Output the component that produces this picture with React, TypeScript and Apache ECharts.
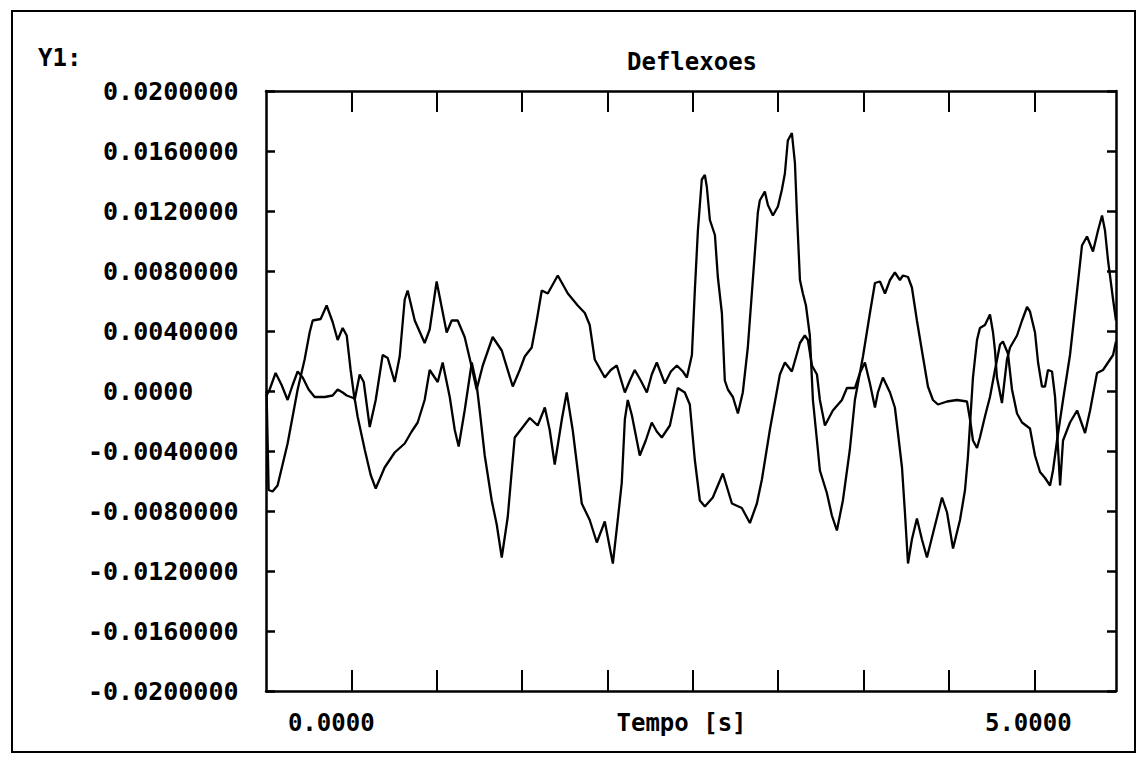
import React, { useEffect, useRef } from "react";
import * as echarts from "echarts";

// ---- data (time in s, deflection) ----
const c1Time = [
  -0.464, -0.449, -0.421, -0.385, -0.313, -0.241, -0.191, -0.155, -0.133, -0.076, -0.033, 0.01, 0.046, 0.082, 0.111, 0.139,
  0.168, 0.204, 0.233, 0.276, 0.319, 0.369, 0.405, 0.455, 0.491, 0.527, 0.548, 0.599, 0.67, 0.706, 0.756, 0.792,
  0.828, 0.864, 0.907, 0.957, 1.0, 1.043, 1.087, 1.158, 1.223, 1.302, 1.352, 1.388, 1.438, 1.474, 1.51, 1.553,
  1.589, 1.625, 1.697, 1.768, 1.819, 1.854, 1.89, 1.962, 2.005, 2.048, 2.106, 2.142, 2.177, 2.22, 2.264, 2.299,
  2.335, 2.393, 2.436, 2.479, 2.522, 2.551, 2.587, 2.608, 2.63, 2.658, 2.68, 2.694, 2.716, 2.752, 2.773, 2.802,
  2.823, 2.845, 2.881, 2.917, 2.952, 2.988, 3.024, 3.06, 3.074, 3.11, 3.132, 3.168, 3.204, 3.232, 3.254, 3.275,
  3.304, 3.326, 3.34, 3.362, 3.383, 3.405, 3.433, 3.455, 3.484, 3.505, 3.555, 3.591, 3.627, 3.67, 3.72, 3.756,
  3.814, 3.864, 3.9, 3.936, 3.972, 4.008, 4.043, 4.079, 4.101, 4.137, 4.165, 4.201, 4.244, 4.28, 4.316, 4.352,
  4.417, 4.488, 4.56, 4.582, 4.603, 4.632, 4.653, 4.689, 4.725, 4.761, 4.797, 4.818, 4.854, 4.883, 4.919, 4.955,
  5.012, 5.048, 5.084, 5.12, 5.156, 5.177, 5.206, 5.249, 5.299, 5.35, 5.385, 5.421, 5.464, 5.5, 5.529, 5.55,
  5.572, 5.608, 5.629,
];
const c1Value = [
  0.0, -0.0066, -0.0067, -0.0063, -0.0035, 0.0001, 0.0021, 0.0039, 0.0047, 0.0048, 0.0057, 0.0046, 0.0034, 0.0042, 0.0037, 0.0014,
  -0.0006, 0.0011, 0.0006, -0.0024, -0.0006, 0.0024, 0.0022, 0.0006, 0.0023, 0.0061, 0.0067, 0.0047, 0.0032, 0.0041, 0.0073, 0.0056,
  0.0039, 0.0047, 0.0047, 0.0036, 0.0019, 0.0001, 0.0017, 0.0036, 0.0027, 0.0003, 0.0014, 0.0023, 0.0029, 0.0047, 0.0067, 0.0065,
  0.0071, 0.0077, 0.0065, 0.0057, 0.0052, 0.0044, 0.0021, 0.0009, 0.0014, 0.0017, -0.0001, 0.0007, 0.0014, 0.0007, -0.0001, 0.0011,
  0.0019, 0.0005, 0.0013, 0.0017, 0.0013, 0.0009, 0.0024, 0.0067, 0.0107, 0.0141, 0.0144, 0.0136, 0.0114, 0.0104, 0.0076, 0.0052,
  0.0007, 0.0001, -0.0004, -0.0015, -0.0001, 0.0029, 0.0074, 0.0119, 0.0127, 0.0133, 0.0124, 0.0117, 0.0123, 0.0134, 0.0145, 0.0167,
  0.0172, 0.0152, 0.0119, 0.0074, 0.0065, 0.0057, 0.0037, -0.0006, -0.0033, -0.0053, -0.0068, -0.0083, -0.0093, -0.0073, -0.0039, -0.0006,
  0.0023, 0.0052, 0.0072, 0.0073, 0.0065, 0.0074, 0.0079, 0.0074, 0.0077, 0.0076, 0.0069, 0.0047, 0.0023, 0.0003, -0.0006, -0.0009,
  -0.0007, -0.0006, -0.0007, -0.0019, -0.0033, -0.0038, -0.0031, -0.0017, -0.0004, 0.0014, 0.0031, 0.0033, 0.0025, 0.0001, -0.0015, -0.0021,
  -0.0025, -0.0043, -0.0054, -0.0058, -0.0063, -0.0053, -0.0033, -0.0006, 0.0024, 0.0067, 0.0097, 0.0103, 0.0093, 0.0107, 0.0117, 0.0107,
  0.0087, 0.0061, 0.0047,
];
const c2Time = [
  -0.464, -0.442, -0.399, -0.356, -0.313, -0.277, -0.241, -0.205, -0.162, -0.119, -0.047, 0.01, 0.046, 0.082, 0.111, 0.168,
  0.189, 0.24, 0.283, 0.319, 0.383, 0.455, 0.527, 0.577, 0.62, 0.67, 0.706, 0.764, 0.799, 0.85, 0.886, 0.914,
  0.957, 1.008, 1.043, 1.065, 1.101, 1.151, 1.187, 1.223, 1.266, 1.295, 1.316, 1.366, 1.424, 1.481, 1.532, 1.567,
  1.603, 1.654, 1.689, 1.732, 1.797, 1.854, 1.905, 1.962, 2.02, 2.055, 2.084, 2.106, 2.127, 2.156, 2.192, 2.213,
  2.256, 2.299, 2.335, 2.371, 2.429, 2.486, 2.536, 2.572, 2.608, 2.644, 2.68, 2.737, 2.809, 2.874, 2.945, 3.003,
  3.053, 3.089, 3.146, 3.218, 3.254, 3.304, 3.362, 3.397, 3.419, 3.448, 3.484, 3.505, 3.541, 3.598, 3.663, 3.699,
  3.756, 3.792, 3.828, 3.864, 3.9, 3.921, 3.957, 4.008, 4.043, 4.065, 4.094, 4.115, 4.137, 4.165, 4.201, 4.237,
  4.273, 4.316, 4.381, 4.417, 4.46, 4.51, 4.546, 4.567, 4.603, 4.632, 4.653, 4.689, 4.725, 4.747, 4.761, 4.775,
  4.811, 4.847, 4.869, 4.919, 4.955, 4.991, 5.012, 5.048, 5.07, 5.098, 5.12, 5.141, 5.17, 5.192, 5.206, 5.228,
  5.249, 5.299, 5.35, 5.407, 5.443, 5.493, 5.536, 5.572, 5.608, 5.629,
];
const c2Value = [
  -0.0003, 0.0001, 0.0012, 0.0004, -0.0006, 0.0004, 0.0013, 0.0009, 0.0001, -0.0004, -0.0004, -0.0003, 0.0001, -0.0001, -0.0003, -0.0005,
  -0.0017, -0.0039, -0.0056, -0.0065, -0.0051, -0.0041, -0.0035, -0.0027, -0.0021, -0.0006, 0.0014, 0.0006, 0.0019, -0.0004, -0.0026, -0.0037,
  -0.0013, 0.0019, 0.0004, -0.0013, -0.0043, -0.0073, -0.0089, -0.0111, -0.0084, -0.0053, -0.0031, -0.0025, -0.0018, -0.0023, -0.0011, -0.0026,
  -0.0049, -0.0019, -0.0001, -0.0026, -0.0075, -0.0086, -0.0101, -0.0087, -0.0115, -0.0086, -0.0061, -0.0019, -0.0006, -0.0016, -0.0033, -0.0043,
  -0.0033, -0.0021, -0.0027, -0.0031, -0.0023, 0.0002, -0.0001, -0.0009, -0.0046, -0.0073, -0.0077, -0.0071, -0.0055, -0.0075, -0.0078, -0.0088,
  -0.0075, -0.0059, -0.0026, 0.0011, 0.0019, 0.0013, 0.0032, 0.0037, 0.0034, 0.0017, 0.0011, -0.0006, -0.0023, -0.0013, -0.0006, 0.0002,
  0.0002, 0.0012, 0.0019, 0.0005, -0.0011, -0.0001, 0.0009, -0.0001, -0.0011, -0.0028, -0.0051, -0.0081, -0.0115, -0.0099, -0.0085, -0.0099,
  -0.0111, -0.0095, -0.0071, -0.0081, -0.0105, -0.0086, -0.0066, -0.0044, 0.0009, 0.0034, 0.0042, 0.0044, 0.0051, 0.0039, 0.0027, 0.0009,
  -0.0008, 0.0021, 0.0029, 0.0037, 0.0047, 0.0056, 0.0053, 0.0039, 0.0019, 0.0003, 0.0003, 0.0014, 0.0013, -0.0004, -0.0026, -0.0063,
  -0.0033, -0.0021, -0.0013, -0.0028, -0.0013, 0.0012, 0.0014, 0.0019, 0.0024, 0.0033,
];

// axes
const xMin = -0.468;
const xMax = 5.629;
const xTickValues = [0.144, 0.757, 1.369, 1.981, 2.594, 3.206, 3.818, 4.431, 5.043];
const xLabelValues = [0, 5];
const yMin = -0.02;
const yMax = 0.02;
const yStep = 0.004;

const titleText = "Deflexoes";
const yTitle = "Y1:";
const xName = "Tempo [s]";

const FONT = "'DejaVu Sans Mono', 'Liberation Mono', monospace";

function zip(a: number[], b: number[]) {
  return a.map((t, i) => [t, b[i]]);
}

function fmtY(v: number) {
  if (Math.abs(v) < 1e-12) return "\u00A00.0000";
  return (v < 0 ? "-" : "\u00A0") + Math.abs(v).toFixed(7);
}

export default function App() {
  const ref = useRef<HTMLDivElement>(null);
  useEffect(() => {
    if (!ref.current) return;
    const chart = echarts.init(ref.current, null, { renderer: "svg" });
    const txt = { fontFamily: FONT, fontWeight: "bold" as const, fontSize: 24, color: "#000" };
    const lineCol = "#000";
    const xCommon = {
      type: "value" as const,
      min: xMin,
      max: xMax,
      splitLine: { show: false },
      axisLine: { show: true, onZero: false, lineStyle: { color: lineCol, width: 2.5 } },
      axisTick: { show: true, inside: true, length: 21, customValues: xTickValues, lineStyle: { color: lineCol, width: 2 } },
    };
    const yCommon = {
      type: "value" as const,
      min: yMin,
      max: yMax,
      interval: yStep,
      splitLine: { show: false },
      axisLine: { show: true, onZero: false, lineStyle: { color: lineCol, width: 2.5 } },
      axisTick: { show: true, inside: true, length: 9, lineStyle: { color: lineCol, width: 2.5 } },
    };
    chart.setOption({
      animation: false,
      backgroundColor: "#fff",
      title: [
        { text: titleText, left: 692, top: 50, textAlign: "center", padding: 0, textStyle: { ...txt } },
        { text: yTitle, left: 38, top: 46, padding: 0, textStyle: { ...txt } },
      ],
      grid: { left: 266, right: 22, top: 91, bottom: 77, containLabel: false },
      xAxis: [
        {
          ...xCommon,
          position: "bottom",
          name: xName,
          nameLocation: "middle",
          nameGap: 20,
          nameMoveOverlap: false,
          nameTextStyle: { ...txt, verticalAlign: "top", padding: [0, 19, 0, 0] },
          axisLabel: {
            ...txt,
            margin: 20,
            customValues: xLabelValues,
            formatter: (v: number) => v.toFixed(4),
          },
        },
        { ...xCommon, position: "top", axisLabel: { show: false } },
      ],
      yAxis: [
        {
          ...yCommon,
          position: "left",
          axisLabel: { ...txt, fontSize: 25, align: "left", margin: 178, formatter: fmtY },
        },
        { ...yCommon, position: "right", axisLabel: { show: false } },
      ],
      graphic: [
        {
          type: "rect",
          shape: { x: 12, y: 11, width: 1123, height: 741 },
          style: { fill: "none", stroke: "#000", lineWidth: 2 },
          silent: true,
        },
      ],
      series: [
        {
          type: "line",
          data: zip(c1Time, c1Value),
          showSymbol: false,
          symbol: "none",
          lineStyle: { color: "#000", width: 2.3 },
          xAxisIndex: 0,
          yAxisIndex: 0,
        },
        {
          type: "line",
          data: zip(c2Time, c2Value),
          showSymbol: false,
          symbol: "none",
          lineStyle: { color: "#000", width: 2.3 },
          xAxisIndex: 0,
          yAxisIndex: 0,
        },
      ],
    });
    return () => chart.dispose();
  }, []);
  return (
    <div
      ref={ref}
      style={{ position: "fixed", left: 0, top: 0, width: 1138, height: 768, background: "#fff" }}
    />
  );
}
